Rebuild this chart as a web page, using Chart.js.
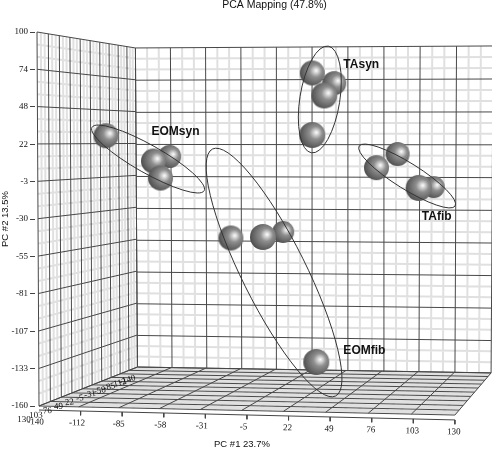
<!DOCTYPE html>
<html>
<head>
<meta charset="utf-8">
<style>
  html, body { margin: 0; padding: 0; background: #fff; }
  canvas { display: block; }
</style>
<script src="https://cdn.jsdelivr.net/npm/chart.js@4/dist/chart.umd.min.js"></script>
</head>
<body>
<canvas id="pca" width="492" height="449"></canvas>
<script>
// tick labels
const pc1Ticks = ['-140', '-112', '-85', '-58', '-31', '-5', '22', '49', '76', '103', '130'];
const pc2Ticks = ['100', '74', '48', '22', '-3', '-30', '-55', '-81', '-107', '-133', '-160'];
const pc3Ticks = ['130', '103', '76', '49', '22', '-5', '-31', '-58', '-85', '-112', '-140'];

const eomSynPc1 = [-96.5, -55.2, -65.7, -61.1];
const eomSynPc2 = [27.9, 13.5, 10.3, -1.5];
const taSynPc1 = [51.7, 45.2, 37.4, 37.4];
const taSynPc2 = [64.5, 55.9, 71.5, 28.4];
const taFibPc1 = [92.8, 79.1, 116.3, 106.5];
const taFibPc2 = [15.2, 5.7, -7.8, -8.4];
const eomFibPc1 = [-15.4, 18.5, 5.4, 40];
const eomFibPc2 = [-43.2, -39, -42.5, -129.4];

// group labels
const groupNames = ['EOMsyn', 'TAsyn', 'TAfib', 'EOMfib'];
const groupLabelPc1 = [-67, 57.6, 108.5, 57.6];
const groupLabelPc2 = [30.5, 77, -28.6, -121.8];

// group ellipses: centre in chart units
const ellipseCx = [-69.2, 42.3, 99, 12.6];
const ellipseCy = [11.7, 53.1, -0.1, -67.2];

// styling and layout
const sphereRadii = {
  eomSyn: [12.5, 11.5, 12.5, 12.5],
  taSyn: [12, 13, 12.5, 13],
  taFib: [12, 12.5, 11, 13],
  eomFib: [12.5, 11, 13, 13]
};
const ellipseRx = [64.4, 54, 56.6, 138];
const ellipseRy = [14, 20, 13, 32];
const ellipseAngle = [29.5, -81, 32, 63.5];

// corners of the walls in chart units: [s0t0, s1t0, s1t1, s0t1]
const leftWall = [[-140, -160], [-76.1, -132.9], [-77.4, 88.9], [-141.3, 100]];
const backWall = [[-76.1, -132.9], [153.5, -137], [154.8, 90.3], [-77.4, 88.9]];
const floor = [[-140, -160], [130, -166.3], [153.5, -137], [-76.1, -132.9]];
const axisStart = -162.8;
const axisEnd = -169.7;

const SERIF = '"Liberation Serif", serif';
const SANS = '"Liberation Sans", Arial, sans-serif';

// square to quad projective map
function quadMap(q) {
  const [[x0, y0], [x1, y1], [x2, y2], [x3, y3]] = q;
  const dx1 = x1 - x2, dx2 = x3 - x2, sx = x0 - x1 + x2 - x3;
  const dy1 = y1 - y2, dy2 = y3 - y2, sy = y0 - y1 + y2 - y3;
  const den = dx1 * dy2 - dx2 * dy1;
  const g = (sx * dy2 - dx2 * sy) / den;
  const h = (dx1 * sy - sx * dy1) / den;
  const a = x1 - x0 + g * x1, b = x3 - x0 + h * x3;
  const d = y1 - y0 + g * y1, e = y3 - y0 + h * y3;
  return (s, t) => {
    const w = g * s + h * t + 1;
    return { x: (a * s + b * t + x0) / w, y: (d * s + e * t + y0) / w };
  };
}

const gap = { x: NaN, y: NaN };
const minorLines = [];
const majorLines = [];

function addWall(corners) {
  const at = quadMap(corners);
  for (let i = 0; i <= 30; i++) {
    const target = i % 3 === 0 ? majorLines : minorLines;
    target.push(at(i / 30, 0), at(i / 30, 1), gap);
    target.push(at(0, i / 30), at(1, i / 30), gap);
  }
}
[leftWall, backWall, floor].forEach(addWall);

// PC1 axis under the floor
const axisY = x => axisStart + (axisEnd - axisStart) * (x + 140) / 270;
const tickX = pc1Ticks.map((t, i) => -140 + 27 * i);
const axisLines = [{ x: -140, y: axisY(-140) }, { x: 130, y: axisY(130) }, gap];
tickX.slice(1).forEach(x => axisLines.push({ x, y: axisY(x) }, { x, y: axisY(x) - 3 }, gap));

// shaded ball, used as point style
function makeSphere(r) {
  const size = Math.ceil(r * 2) + 2;
  const c = document.createElement('canvas');
  c.width = size;
  c.height = size;
  const ctx = c.getContext('2d');
  const m = size / 2;
  const grad = ctx.createRadialGradient(m + r * 0.32, m - r * 0.2, 0, m + r * 0.2, m - r * 0.1, r * 1.3);
  grad.addColorStop(0, '#ffffff');
  grad.addColorStop(0.13, '#d8d8d8');
  grad.addColorStop(0.38, '#8e8e8e');
  grad.addColorStop(0.8, '#5e5e5e');
  grad.addColorStop(1, '#464646');
  ctx.fillStyle = grad;
  ctx.beginPath();
  ctx.arc(m, m, r, 0, Math.PI * 2);
  ctx.fill();
  return c;
}

function sphereSet(xs, ys, radii) {
  return {
    type: 'scatter',
    order: 1,
    clip: false,
    data: xs.map((x, i) => ({ x, y: ys[i] })),
    pointStyle: radii.map(makeSphere),
    pointRadius: radii,
    pointHoverRadius: radii
  };
}

function lineSet(data, color, width, order) {
  return {
    type: 'scatter',
    showLine: true,
    spanGaps: false,
    order,
    clip: false,
    data,
    borderColor: color,
    borderWidth: width,
    pointRadius: 0,
    pointHoverRadius: 0
  };
}

const annotations = {
  id: 'annotations',
  afterDatasetsDraw(chart) {
    const { ctx, scales: { x: sx, y: sy } } = chart;
    const X = v => sx.getPixelForValue(v);
    const Y = v => sy.getPixelForValue(v);
    ctx.save();

    // ellipses sit on top of the balls
    ctx.strokeStyle = '#333';
    ctx.lineWidth = 1;
    ellipseCx.forEach((cx, i) => {
      ctx.beginPath();
      ctx.ellipse(X(cx), Y(ellipseCy[i]), ellipseRx[i], ellipseRy[i], ellipseAngle[i] * Math.PI / 180, 0, Math.PI * 2);
      ctx.stroke();
    });

    ctx.fillStyle = '#111';
    ctx.textBaseline = 'middle';

    ctx.font = 'bold 12px ' + SANS;
    ctx.textAlign = 'left';
    groupNames.forEach((name, i) => ctx.fillText(name, X(groupLabelPc1[i]), Y(groupLabelPc2[i])));

    // PC1 tick labels follow the tilted axis
    ctx.font = '9px ' + SERIF;
    ctx.textAlign = 'center';
    pc1Ticks.forEach((label, i) => {
      const shift = label[0] === '-' ? -3.5 : -1;
      ctx.save();
      ctx.translate(X(tickX[i]) + shift, Y(axisY(tickX[i])) + 12);
      ctx.rotate(0.024);
      ctx.fillText(label, 0, 0);
      ctx.restore();
    });

    // depth tick labels along the left floor edge
    const edge = quadMap(floor);
    pc3Ticks.forEach((label, i) => {
      const p = edge(0, i / 10);
      const k = i / 10;
      ctx.save();
      ctx.translate(X(p.x) - 15 + 5 * k, Y(p.y) + 14 - 1 * k);
      ctx.rotate(-0.3 * k);
      ctx.fillText(label, 0, 0);
      ctx.restore();
    });

    ctx.font = '10.5px ' + SANS;
    ctx.fillText('PCA Mapping (47.8%)', 274.5, 5);
    ctx.font = '9.5px ' + SANS;
    ctx.fillText('PC #1 23.7%', 242, 444);
    ctx.restore();
  }
};

new Chart(document.getElementById('pca'), {
  data: {
    datasets: [
      sphereSet(eomSynPc1, eomSynPc2, sphereRadii.eomSyn),
      sphereSet(taSynPc1, taSynPc2, sphereRadii.taSyn),
      sphereSet(taFibPc1, taFibPc2, sphereRadii.taFib),
      sphereSet(eomFibPc1, eomFibPc2, sphereRadii.eomFib),
      lineSet(axisLines, '#444', 1, 2),
      lineSet(majorLines, '#484848', 1, 3),
      lineSet(minorLines, '#e0e0e0', 2, 4)
    ]
  },
  plugins: [annotations],
  options: {
    responsive: false,
    animation: false,
    events: [],
    layout: { padding: { top: 32, bottom: 43, left: 0, right: 0 } },
    plugins: {
      legend: { display: false },
      tooltip: { enabled: false },
      title: { display: false }
    },
    scales: {
      x: { type: 'linear', display: false, min: -142.6, max: 145 },
      y: {
        type: 'linear',
        min: -160,
        max: 100,
        afterFit: scale => { scale.width = 35; },
        afterBuildTicks: scale => {
          scale.ticks = pc2Ticks.map((t, i) => ({ value: 100 - 26 * i }));
        },
        title: {
          display: true,
          text: 'PC #2 13.5%',
          color: '#111',
          padding: 0,
          font: { family: SANS, size: 9.5 }
        },
        border: { display: false },
        grid: { drawOnChartArea: false, drawTicks: true, tickLength: 5, color: '#444' },
        ticks: {
          autoSkip: false,
          padding: 2,
          color: '#111',
          font: { family: SERIF, size: 9 },
          callback: (value, index) => pc2Ticks[index]
        }
      }
    }
  }
});
</script>
</body>
</html>
